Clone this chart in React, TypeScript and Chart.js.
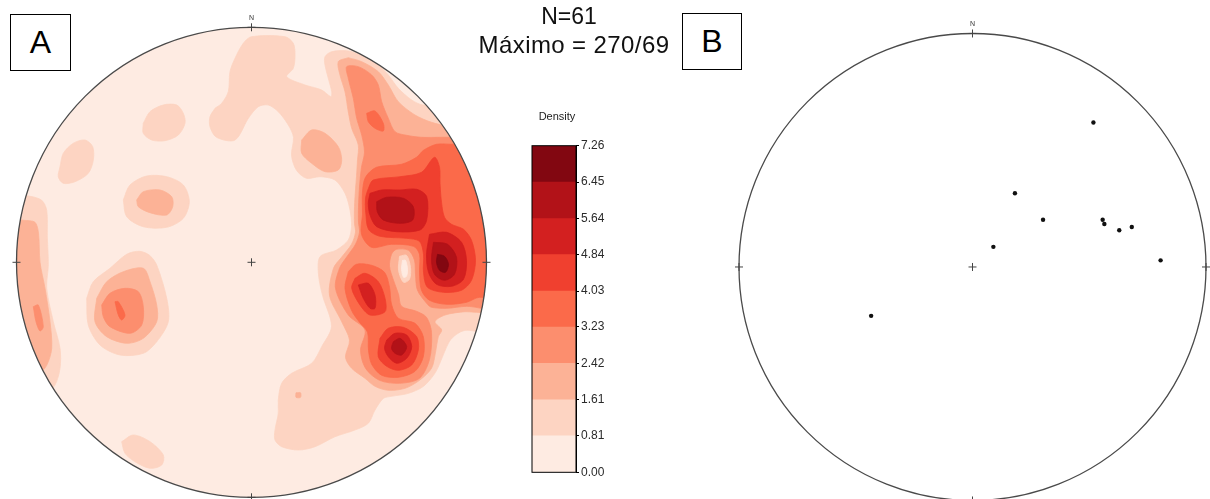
import React, { useEffect, useRef } from 'react';
import { Chart, registerables } from 'chart.js';

Chart.register(...registerables);

// ---------- values ----------
const NET_RADIUS = 235; // net units: rim of each stereonet

const levelTicks = [0, 0.81, 1.61, 2.42, 3.23, 4.03, 4.84, 5.64, 6.45, 7.26];
const levelLabels = ['0.00', '0.81', '1.61', '2.42', '3.23', '4.03', '4.84', '5.64', '6.45', '7.26'];
const bandColors = ['#feebe2', '#fdd4c2', '#fcb296', '#fc8e6e', '#fb6a4a', '#f0402f', '#d32020', '#b21218', '#820711'];

type Pt = [number, number];

// density >= 0.81
const band1Regions: Pt[][] = [
  [[-36.5, 154], [-29.8, 159], [-23.2, 170.6], [-21.5, 190.6], [-16.5, 204], [-8.2, 219], [0, 225.6], [33.5, 225.6], [41.8, 219], [43.5, 207.3], [41.8, 194], [35.2, 185.6], [53.5, 177.3], [70.2, 172.3], [79.5, 165.6], [80.2, 170.6], [76.8, 184], [73.5, 197.3], [73.5, 205.6], [80.2, 210.6], [96.8, 211.3], [113.5, 205.6], [126.8, 197.3], [136.8, 187.3], [146.8, 174], [160.2, 162.3], [171.8, 157.3], [250, 157], [250, -68], [214, -68], [205, -72], [198, -79], [192, -92], [184, -110], [172, -124], [157, -131], [140, -134], [132, -136], [123.5, -147.7], [116.8, -161], [103.5, -167.7], [83.5, -174.4], [63.5, -184.4], [46.8, -187.7], [30.2, -184.4], [23.5, -177.7], [23.5, -167.7], [26.8, -151], [26.8, -137.7], [30.2, -121], [40.2, -111], [60.2, -101], [70.2, -84.4], [80, -64], [71, -33], [67, -12], [68.5, 5.6], [85, 12.3], [96.8, 22.3], [100, 35.6], [98.5, 52.3], [93.5, 69], [83.5, 82.3], [68.5, 85.6], [55, 84], [45, 92], [40, 107], [42, 125], [36.8, 137.3], [26.8, 150.6], [16.8, 157.3], [6.8, 155.6], [-3.2, 143.9], [-16.5, 122.3], [-35, 125], [-41.5, 135.6], [-41.5, 145.6]],
  [[-108.2, 139], [-101.5, 150.6], [-88.2, 157.3], [-74.8, 157.3], [-68.2, 149], [-66.5, 139], [-73.2, 127.3], [-86.5, 121.6], [-99.8, 122.3], [-108.2, 129]],
  [[-191.5, 95.6], [-188.2, 109], [-178.2, 119], [-166.5, 122.3], [-158.8, 115.6], [-158.2, 102.3], [-163.2, 89], [-176.5, 80.6], [-188.2, 79], [-193.2, 85.6]],
  [[-128.2, 62.3], [-121.5, 77.3], [-104.8, 86.3], [-84.8, 85.6], [-68.2, 77.3], [-62.2, 60.6], [-68.2, 44], [-84.8, 35], [-108.2, 35.6], [-124.8, 45.6]],
  [[-250, 70], [-221.5, 66], [-209.8, 62], [-204.8, 52], [-204.2, 25.6], [-203.2, -2.7], [-204.8, -26], [-198.2, -59.4], [-191.5, -86], [-191.5, -106], [-196.5, -122.7], [-205, -130], [-250, -130]],
  [[-129.8, -179.4], [-118.2, -172.7], [-101.5, -179.4], [-88.2, -192.7], [-89.8, -202.7], [-101.5, -206], [-116.5, -199.4], [-126.5, -191]],
  [[-164.8, -36], [-158.2, -19.4], [-141.5, -6], [-124.8, 8], [-112, 11], [-102, 7], [-94.8, -2.7], [-84.8, -36], [-83.2, -59.4], [-94.8, -79.4], [-108.2, -91], [-131.5, -92.7], [-151.5, -82.7], [-163.2, -62.7]],
];

// density >= 1.61
const band2Regions: Pt[][] = [
  [[96.8, 204.6], [110.2, 200.6], [126.8, 190.6], [136.8, 177.3], [146.8, 160.6], [163.5, 147.3], [180, 140], [195, 137], [260, 140], [260, -50], [225, -50], [213.5, -49.4], [193.5, -52.7], [183.5, -59.4], [190.2, -67.7], [186.8, -74.4], [184, -90], [180, -106], [168, -118], [153.5, -126], [136.8, -128], [123.5, -124], [113.5, -116], [100.2, -106], [94, -95], [98, -78], [90, -59], [78, -33], [82, -6], [90, 5], [100, 18], [104, 30], [103, 39], [103, 55.6], [104, 72.3], [105, 85.6], [106, 102], [106.8, 117.3], [100.2, 134], [96.8, 150.6], [93.5, 170.6], [88.5, 187.3], [86.8, 200.6]],
  [[50.2, 122.3], [60.2, 132.3], [73.5, 129], [86.8, 115.6], [90.2, 102.3], [86.8, 92.3], [73.5, 90.6], [60.2, 99], [50.2, 109]],
  [[44.5, -130.5], [49, -130.5], [49, -135], [44.5, -135]],
  [[-114.8, 62.3], [-108.2, 70.6], [-91.5, 72.3], [-79.8, 65.6], [-78.8, 55.6], [-84.8, 47.3], [-101.5, 49.6], [-113.2, 55.6]],
  [[-250, 45], [-228, 42], [-216.5, 40], [-213, 29], [-211.5, 0], [-206.5, -26], [-201.5, -59.4], [-199.8, -86], [-204.8, -103], [-212, -110], [-250, -110]],
  [[-154.8, -36], [-144.8, -19.4], [-128.2, -9.4], [-108.2, -6], [-101.5, -19.4], [-94.8, -42.7], [-94.8, -59.4], [-108.2, -76], [-124.8, -81], [-144.8, -74.4], [-156.5, -59.4]],
];

// density >= 2.42
const band3Regions: Pt[][] = [
  [[260, 125], [260, -45], [215, -44], [195, -46], [180, -45], [176, -42], [166, -28], [164, -12], [163, 2], [157, 12], [145, 13], [140, 8], [138, -4], [142, -18], [147, -32], [150, -44], [165, -49], [175, -55], [180, -70], [178, -97], [168, -116], [148, -121], [128, -118], [114, -106], [109, -88], [113.5, -67.7], [96.8, -52.7], [84, -26], [88, -6], [95, 5], [104, 18], [108, 30], [107, 40], [107, 55], [108, 75], [110, 95], [113, 110], [110.2, 127.3], [105.2, 144], [101.8, 164], [96.8, 184], [95.2, 195.6], [106.8, 195.6], [120.2, 187.3], [126.8, 177.3], [130.2, 160.6], [136.8, 144], [143.5, 130.6], [155, 127], [170, 125], [190, 125]],
  [[-149.8, -42.7], [-141.5, -31], [-126.5, -26], [-113.2, -29.4], [-108.2, -44.4], [-109.8, -62.7], [-121.5, -71], [-141.5, -64.4], [-148.2, -54.4]],
  [[-218.2, -44.4], [-213.2, -42.7], [-208.2, -64.4], [-211.5, -68.7], [-215.5, -59.4]],
];

// density >= 3.23
const band4Regions: Pt[][] = [
  [[111, 48], [111, 70], [114, 85], [125, 95], [150, 98], [165, 105], [172, 112], [185, 118], [200, 118], [260, 118], [260, -40], [228, -35], [215, -40], [195, -42], [178, -38], [170, -28], [168, -10], [168, 8], [162, 16], [140, 18], [120, 15], [110, 28]],
  [[96.8, -9.4], [105, -2], [120, -3], [133, -10], [138, -25], [140, -42], [146.8, -56], [163.5, -61], [171.8, -74.4], [171.8, -94.4], [163.5, -109], [146.8, -115], [130.2, -113], [120.2, -102], [117, -88], [116, -70], [108, -60], [100, -48], [93.5, -26]],
  [[115.2, 149], [123.5, 151.3], [131.8, 139], [131.8, 131.3], [123.5, 134], [116.8, 140.6]],
  [[-136.5, -39.4], [-133.2, -39.4], [-126.5, -52.7], [-129.8, -57.7], [-133.2, -52.7]],
];

// density >= 4.03
const band5Regions: Pt[][] = [
  [[114, 52], [114, 64], [117, 74], [121.8, 82.3], [148.5, 85.6], [170, 90], [183, 105], [188, 95], [188.5, 79], [190, 60], [193, 45], [200, 38], [212, 33], [220, 22], [224, 2], [220, -18], [210, -28], [192, -30], [176, -25], [172, -10], [172, 8], [168, 21], [155, 24], [128.5, 26], [117, 33]],
  [[103.5, -16], [113.5, -11], [126.8, -19.4], [133.5, -36], [133.5, -49.4], [118.5, -52.7], [108.5, -42.7], [100.2, -26]],
  [[128.5, -76], [136.8, -66], [151.8, -65], [165.2, -74.4], [166.8, -87.7], [160.2, -102.7], [146.8, -108], [135.2, -104], [126.8, -94.4]],
];

// density >= 4.84
const band6Regions: Pt[][] = [
  [[118.5, 69], [130.2, 72.3], [148.5, 72.3], [165.2, 73], [175.2, 65.6], [175.2, 42.3], [168.5, 32.3], [145.2, 30.6], [125.2, 35.6], [118.5, 47.3], [116.8, 59]],
  [[178, 28], [195, 30], [210, 20], [215, 2], [212, -17], [200, -24], [185, -22], [177, -10], [175, 8]],
  [[106.8, -22.7], [116.8, -21], [123.5, -32.7], [123.5, -46], [118.5, -46], [111.8, -36]],
  [[135.2, -77.7], [143.5, -71], [155.2, -72.7], [160.2, -84.4], [155.2, -96], [145.2, -101], [136.8, -94.4], [133, -86]],
];

// density >= 5.64
const band7Regions: Pt[][] = [
  [[125.2, 60.6], [135.2, 65], [151.8, 64], [161.8, 55.6], [161.2, 42.3], [148.5, 39], [131.8, 42.3], [125.8, 50.6]],
  [[182, 20], [196, 18], [205, 5], [203, -12], [193, -18], [183, -12], [180, 3]],
  [[141.8, -79.4], [148.5, -76], [155.2, -84.4], [150.2, -92.7], [143.5, -91], [140, -86]],
];

// density >= 6.45
const band8Regions: Pt[][] = [
  [[186, 8], [193, 6], [197, -2], [194, -10], [188, -8], [185, 0]],
];

// low spot inside the eastern cluster
const band1Holes: Pt[][] = [
  [[148, 6], [155, 7], [159, -5], [158, -17], [152, -20], [147, -8]],
];
const band0Holes: Pt[][] = [
  [[151, 2], [154, 2], [156, -7], [155, -14], [152, -15], [150, -7]],
];

// right net (B): projected poles, net units
const poleX = [121.7, 42.7, 71, 131, 132.7, 147.7, 160.3, 21, 189.3, -102];
const poleY = [145.7, 74.3, 47.7, 47.7, 43.3, 37, 40.3, 20.3, 6.7, -49.3];

const FONT = '"Liberation Sans", Arial, sans-serif';

// ---------- helpers ----------
function netGeom(chart: any) {
  const xs = chart.scales.x;
  const ys = chart.scales.y;
  const cx = xs.getPixelForValue(0);
  const cy = ys.getPixelForValue(0);
  const r = xs.getPixelForValue(NET_RADIUS) - cx;
  return { cx, cy, r };
}

function makeNetPlugin(id: string, fillColor: string | null) {
  return {
    id,
    beforeDatasetsDraw(chart: any) {
      const { ctx } = chart;
      const { cx, cy, r } = netGeom(chart);
      ctx.save();
      if (fillColor) {
        ctx.beginPath();
        ctx.arc(cx, cy, r, 0, Math.PI * 2);
        ctx.fillStyle = fillColor;
        ctx.fill();
      }
      ctx.beginPath();
      ctx.arc(cx, cy, r, 0, Math.PI * 2);
      ctx.clip();
    },
    afterDatasetsDraw(chart: any) {
      const { ctx } = chart;
      ctx.restore();
      const { cx, cy, r } = netGeom(chart);
      ctx.save();
      ctx.beginPath();
      ctx.arc(cx, cy, r, 0, Math.PI * 2);
      ctx.strokeStyle = '#4a4a4a';
      ctx.lineWidth = 1.3;
      ctx.stroke();
      const cross = (x: number, y: number, s: number) => {
        ctx.moveTo(x - s, y);
        ctx.lineTo(x + s, y);
        ctx.moveTo(x, y - s);
        ctx.lineTo(x, y + s);
      };
      ctx.beginPath();
      cross(cx, cy, 4);
      cross(cx, cy - r, 4);
      cross(cx + r, cy, 4);
      cross(cx, cy + r, 4);
      cross(cx - r, cy, 4);
      ctx.strokeStyle = '#444';
      ctx.lineWidth = 1;
      ctx.stroke();
      ctx.fillStyle = '#333';
      ctx.font = `7px ${FONT}`;
      ctx.textAlign = 'center';
      ctx.textBaseline = 'alphabetic';
      ctx.fillText('N', cx, cy - r - 7);
      ctx.restore();
    },
  };
}

function buildContourDatasets() {
  const layers: { band: number; regions: Pt[][] }[] = [
    { band: 1, regions: band1Regions },
    { band: 2, regions: band2Regions },
    { band: 3, regions: band3Regions },
    { band: 4, regions: band4Regions },
    { band: 5, regions: band5Regions },
    { band: 6, regions: band6Regions },
    { band: 7, regions: band7Regions },
    { band: 8, regions: band8Regions },
    { band: 1, regions: band1Holes },
    { band: 0, regions: band0Holes },
  ];
  const flat: { band: number; poly: Pt[] }[] = [];
  layers.forEach((l) => l.regions.forEach((p) => flat.push({ band: l.band, poly: p })));
  const n = flat.length;
  return flat.map((item, k) => {
    const pts = item.poly.concat([item.poly[0]]).map(([x, y]) => ({ x, y }));
    const c = bandColors[item.band];
    return {
      data: pts,
      showLine: true,
      fill: 'shape',
      backgroundColor: c,
      borderColor: c,
      borderWidth: 0.8,
      pointRadius: 0,
      pointHoverRadius: 0,
      tension: 0.3,
      order: n - k,
    };
  });
}

// ---------- charts ----------
function DensityNet() {
  const ref = useRef<HTMLCanvasElement>(null);
  useEffect(() => {
    if (!ref.current) return;
    const chart = new Chart(ref.current, {
      type: 'scatter',
      data: { datasets: buildContourDatasets() as any },
      options: {
        responsive: false,
        animation: false,
        devicePixelRatio: 1,
        events: [],
        layout: { padding: { left: 16.5, right: 13.5, top: 27.3, bottom: 1.7 } },
        elements: { line: { capBezierPoints: false } },
        plugins: { legend: { display: false }, tooltip: { enabled: false } },
        scales: {
          x: { type: 'linear', min: -NET_RADIUS, max: NET_RADIUS, display: false },
          y: { type: 'linear', min: -NET_RADIUS, max: NET_RADIUS, display: false },
        },
      },
      plugins: [makeNetPlugin('netA', bandColors[0])],
    });
    return () => chart.destroy();
  }, []);
  return <canvas ref={ref} width={500} height={499} style={{ position: 'absolute', left: 0, top: 0 }} />;
}

function ColorBar() {
  const ref = useRef<HTMLCanvasElement>(null);
  useEffect(() => {
    if (!ref.current) return;
    const datasets = bandColors.map((c, i) => ({
      data: [levelTicks[i + 1] - levelTicks[i]],
      backgroundColor: c,
      borderWidth: 0,
      barPercentage: 1,
      categoryPercentage: 1,
    }));
    const frame = {
      id: 'cbFrame',
      afterDatasetsDraw(chart: any) {
        const { ctx, chartArea: a } = chart;
        ctx.save();
        ctx.strokeStyle = '#000';
        ctx.lineWidth = 1;
        ctx.strokeRect(a.left, a.top, a.right - a.left, a.bottom - a.top);
        ctx.restore();
      },
    };
    const chart = new Chart(ref.current, {
      type: 'bar',
      data: { labels: ['Density'], datasets },
      options: {
        responsive: false,
        animation: false,
        devicePixelRatio: 1,
        events: [],
        layout: { padding: { left: 32, right: 0, top: 45.7, bottom: 17.7 } },
        plugins: { legend: { display: false }, tooltip: { enabled: false } },
        scales: {
          x: { stacked: true, display: false },
          y: {
            stacked: true,
            position: 'right',
            min: 0,
            max: levelTicks[levelTicks.length - 1],
            afterBuildTicks: (axis: any) => {
              axis.ticks = levelTicks.map((v) => ({ value: v }));
            },
            afterFit: (axis: any) => {
              axis.width = 64;
            },
            ticks: {
              autoSkip: false,
              padding: 2,
              color: '#2a2a2a',
              font: { size: 12, family: FONT },
              callback: (_v: any, i: number) => levelLabels[i],
            },
            grid: { drawOnChartArea: false, drawTicks: true, tickLength: 3, color: '#000' },
            border: { display: true, color: '#000' },
          },
        },
      },
      plugins: [frame],
    });
    return () => chart.destroy();
  }, []);
  return <canvas ref={ref} width={140} height={390} style={{ position: 'absolute', left: 500, top: 100 }} />;
}

function PoleNet() {
  const ref = useRef<HTMLCanvasElement>(null);
  useEffect(() => {
    if (!ref.current) return;
    const chart = new Chart(ref.current, {
      type: 'scatter',
      data: {
        datasets: [
          {
            data: poleX.map((x, i) => ({ x, y: poleY[i] })),
            pointRadius: 2.2,
            pointBackgroundColor: '#111',
            pointBorderColor: '#111',
            pointBorderWidth: 0,
          },
        ],
      },
      options: {
        responsive: false,
        animation: false,
        devicePixelRatio: 1,
        events: [],
        layout: { padding: { left: 9, right: 1, top: 34, bottom: 0 } },
        plugins: { legend: { display: false }, tooltip: { enabled: false } },
        scales: {
          x: { type: 'linear', min: -NET_RADIUS, max: NET_RADIUS, display: false },
          y: { type: 'linear', min: -230, max: NET_RADIUS, display: false },
        },
      },
      plugins: [makeNetPlugin('netB', null)],
    });
    return () => chart.destroy();
  }, []);
  return <canvas ref={ref} width={480} height={499} style={{ position: 'absolute', left: 730, top: 0 }} />;
}

const boxStyle: React.CSSProperties = {
  position: 'absolute',
  boxSizing: 'border-box',
  border: '1px solid #000',
  display: 'flex',
  alignItems: 'center',
  justifyContent: 'center',
  fontFamily: FONT,
  fontSize: 32,
  color: '#000',
  background: '#fff',
};

export default function App() {
  return (
    <div
      style={{
        position: 'absolute',
        left: 0,
        top: 0,
        width: 1210,
        height: 499,
        overflow: 'hidden',
        background: '#fff',
        fontFamily: FONT,
      }}
    >
      <DensityNet />
      <ColorBar />
      <PoleNet />
      <div style={{ ...boxStyle, left: 10, top: 14, width: 61, height: 57 }}>A</div>
      <div style={{ ...boxStyle, left: 682, top: 13, width: 60, height: 57 }}>B</div>
      <div style={{ position: 'absolute', left: 469, top: 5, width: 200, textAlign: 'center', fontSize: 23, lineHeight: '23px', color: '#111' }}>
        N=61
      </div>
      <div style={{ position: 'absolute', left: 424, top: 32.8, width: 300, textAlign: 'center', fontSize: 24, lineHeight: '24px', letterSpacing: 0.4, color: '#111' }}>
        Máximo = 270/69
      </div>
      <div style={{ position: 'absolute', left: 507, top: 111, width: 100, textAlign: 'center', fontSize: 11, lineHeight: '11px', color: '#222' }}>
        Density
      </div>
    </div>
  );
}
